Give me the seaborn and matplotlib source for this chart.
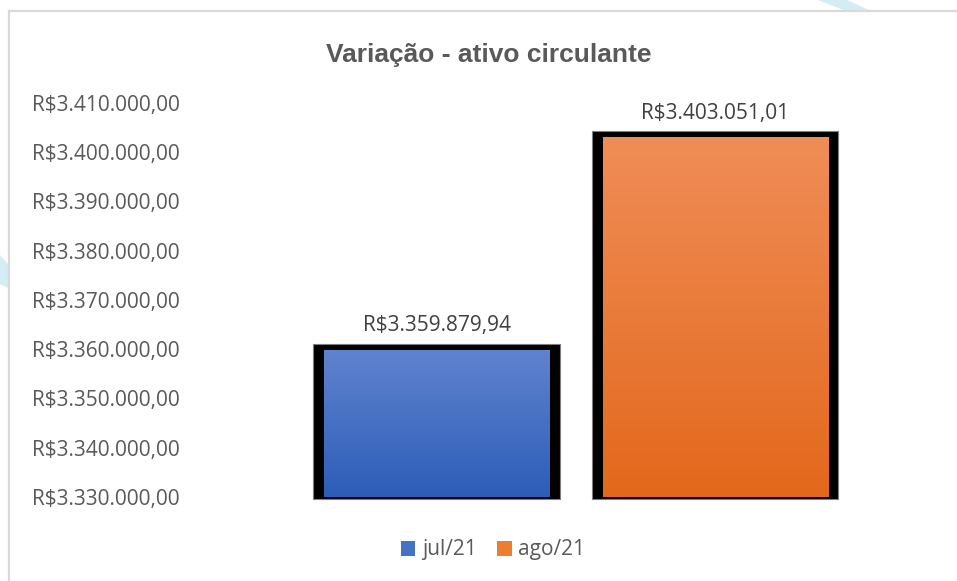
import numpy as np
import pandas as pd
import matplotlib
matplotlib.use("Agg")
import matplotlib.pyplot as plt
import seaborn as sns
from matplotlib.patches import Patch, FancyBboxPatch, Polygon, Rectangle
from matplotlib.colors import LinearSegmentedColormap

# ---- data ----
meses = ["jul/21", "ago/21"]
valores = [3359879.94, 3403051.01]
y_ticks = [3330000, 3340000, 3350000, 3360000, 3370000, 3380000, 3390000, 3400000, 3410000]
titulo = "Variação - ativo circulante"

cores_topo = ["#6083CE", "#F08D57"]
cores_base = ["#2D5DB8", "#E3681C"]
cores_leg = ["#4472C4", "#ED7D31"]

def brl(v):
    s = f"{v:,.2f}"
    s = s.replace(",", "X").replace(".", ",").replace("X", ".")
    return "R$" + s

sns.set_theme(style="white")
plt.rcParams["font.family"] = ["Open Sans", "DejaVu Sans"]

W, H = 957, 581
fig = plt.figure(figsize=(W / 100, H / 100), dpi=100)

# decorative background bands
fig.patches.append(Polygon([[818, 581], [847, 581], [880, 566], [856, 566]], closed=True,
                           transform=None, facecolor="#D3EDF2", edgecolor="none", zorder=0))
fig.patches.append(Polygon([[0, 581 - 255], [8, 581 - 264], [8, 581 - 288], [0, 581 - 284]], closed=True,
                           transform=None, facecolor="#D3EDF2", edgecolor="none", zorder=0))
# chart border
fig.patches.append(Rectangle((9, -10), 1000, 581 - 11 + 10, transform=None, facecolor="white",
                             edgecolor="#D9D9D9", linewidth=1.6, zorder=1))

# plot area
px_l, px_r = 297.75, 854.75
px_top, px_bot = 103, 497
ax = fig.add_axes([px_l / W, 1 - px_bot / H, (px_r - px_l) / W, (px_bot - px_top) / H])
ax.set_zorder(2)
ax.patch.set_alpha(0)

df = pd.DataFrame({"mes": meses, "valor": valores})
sns.barplot(data=df, x="mes", y="valor", hue="mes", palette=cores_base, width=0.81,
            dodge=False, legend=False, ax=ax, saturation=1)

ax.set_xlim(-0.5, 1.5)
ax.set_ylim(y_ticks[0], y_ticks[-1])
ax.set_yticks(y_ticks)
ax.set_yticklabels([brl(v) for v in y_ticks], fontsize=15, color="#595959", ha="left")
ax.tick_params(axis="y", length=0, pad=(px_l - 32) * 0.72)
ax.set_xticks([])
ax.set_xlabel("")
ax.set_ylabel("")
for s in ax.spines.values():
    s.set_visible(False)

# unit conversions
x_per_px = 2.0 / (px_r - px_l)
y_per_px = (y_ticks[-1] - y_ticks[0]) / (px_bot - px_top)

for i, p in enumerate(ax.patches):
    x0, w = p.get_x(), p.get_width()
    y0 = y_ticks[0]
    top = valores[i]
    # black frame behind
    frame = FancyBboxPatch((x0 - 11 * x_per_px, y0 - 2 * y_per_px),
                           w + 21 * x_per_px, (top - y0) + 8 * y_per_px,
                           boxstyle="square,pad=0", facecolor="black", edgecolor="#7F7F7F",
                           linewidth=0.8, zorder=1, clip_on=False)
    ax.add_patch(frame)
    p.set_zorder(2)
    p.set_edgecolor("none")
    # gradient
    cmap = LinearSegmentedColormap.from_list("g", [cores_base[i], cores_topo[i]])
    grad = np.linspace(0, 1, 256).reshape(-1, 1)
    im = ax.imshow(grad, extent=[x0, x0 + w, y0, top], origin="lower", cmap=cmap,
                   aspect="auto", zorder=3, interpolation="bicubic")
    im.set_clip_path(p)
    ax.annotate(brl(valores[i]), xy=(x0 + w / 2, top), xytext=(0, 24 * 0.72),
                textcoords="offset points", ha="center", va="center",
                fontsize=15, color="#404040", annotation_clip=False)

ax.set_xlim(-0.5, 1.5)
ax.set_ylim(y_ticks[0], y_ticks[-1])

fig.text(489 / W, 1 - 55 / H, titulo, ha="center", va="center", fontsize=19,
         fontweight="bold", color="#595959",
         family=["Liberation Sans Narrow", "Liberation Sans", "DejaVu Sans"])

handles = [Patch(facecolor=c, edgecolor="none") for c in cores_leg]
leg = fig.legend(handles, meses, loc="center", bbox_to_anchor=(493 / W, 1 - 550 / H),
                 ncol=2, frameon=False, fontsize=15, handlelength=0.7, handleheight=0.7,
                 handletextpad=0.3, columnspacing=1.0, borderpad=0)
for t in leg.get_texts():
    t.set_color("#595959")

fig.savefig("out.png", dpi=100)
